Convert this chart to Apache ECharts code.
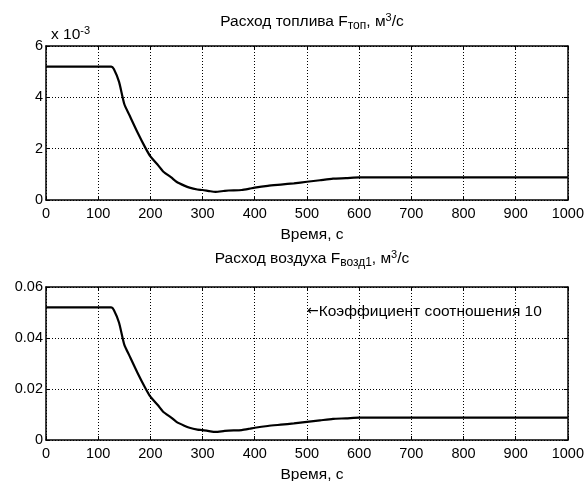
<!DOCTYPE html>
<html><head><meta charset="utf-8">
<script src="https://cdn.jsdelivr.net/npm/echarts@6/dist/echarts.min.js"></script>
<style>html,body{margin:0;padding:0;background:#fff}#c{width:587px;height:481px}</style>
</head><body><div id="c"></div>
<script>
const time = [0,125,130,140,150,160,175,190,200,215,225,240,250,265,275,290,300,315,325,340,350,375,390,400,425,450,475,500,525,550,575,600,700,800,900,1000];
const fuel = [5.2e-3,5.2e-3,5.1e-3,4.6e-3,3.74e-3,3.3e-3,2.65e-3,2.05e-3,1.70e-3,1.35e-3,1.10e-3,0.88e-3,0.71e-3,0.56e-3,0.48e-3,0.41e-3,0.39e-3,0.34e-3,0.32e-3,0.35e-3,0.37e-3,0.39e-3,0.44e-3,0.48e-3,0.55e-3,0.60e-3,0.65e-3,0.71e-3,0.77e-3,0.83e-3,0.85e-3,0.88e-3,0.88e-3,0.88e-3,0.88e-3,0.88e-3];
const ratio = 10;
const air = fuel.map(v => v * ratio);
const xTicks = [0,100,200,300,400,500,600,700,800,900,1000];
const fuelTicks = [0,2,4,6];
const airTicks = [0,0.02,0.04,0.06];
const note = {x: 500, y: 0.0503, arrow: '←', text: 'Коэффициент соотношения 10'};

const F = 'Liberation Sans, Arial, sans-serif';
const FS = 14.5;   // tick labels
const TS = 15.5;   // titles / axis names
const chart = echarts.init(document.getElementById('c'));
const gridStyle = {show:true, lineStyle:{color:'#000', type:[1,2], width:1}};
function xAxis(gi, pos, labels){
  return {type:'value', gridIndex:gi, position:pos, min:xTicks[0], max:xTicks[xTicks.length-1], interval:xTicks[1]-xTicks[0],
    axisLine:{show:true, onZero:false, lineStyle:{color:'#000', width:1.5}},
    axisTick:{show:true, inside:true, length:4, lineStyle:{color:'#000'}},
    axisLabel:{show:labels, color:'#000', fontFamily:F, fontSize:FS, margin:6, formatter:v=>String(v)},
    splitLine: labels ? gridStyle : {show:false}};
}
function yAxis(gi, pos, labels, ticks, fmt){
  return {type:'value', gridIndex:gi, position:pos, min:ticks[0], max:ticks[ticks.length-1], interval:ticks[1]-ticks[0],
    axisLine:{show:true, onZero:false, lineStyle:{color:'#000', width:1.5}},
    axisTick:{show:true, inside:true, length:4, lineStyle:{color:'#000'}},
    axisLabel:{show:labels, color:'#000', fontFamily:F, fontSize:FS, margin:3, formatter:fmt},
    splitLine: labels ? gridStyle : {show:false}};
}
const rich = {
  t:{fontFamily:F, fontSize:TS, fontWeight:'normal', color:'#000'},
  sub:{fontFamily:F, fontSize:12, fontWeight:'normal', color:'#000', verticalAlign:'bottom', padding:[8,0,0,0]},
  sup:{fontFamily:F, fontSize:11, fontWeight:'normal', color:'#000', verticalAlign:'top', padding:[0,0,8,0]}
};
const plain = {fontFamily:F, fontSize:TS, fontWeight:'normal', color:'#000'};
chart.setOption({
  animation:false,
  title:[
    {text:'{t|Расход топлива F}{sub|топ}{t|, м}{sup|3}{t|/с}', left:307, textAlign:'center', top:7, textStyle:{rich:rich}},
    {text:'{t|Расход воздуха F}{sub|возд1}{t|, м}{sup|3}{t|/с}', left:307, textAlign:'center', top:244, textStyle:{rich:rich}},
    {text:'Время, с', left:307, textAlign:'center', top:222, textStyle:plain},
    {text:'Время, с', left:307, textAlign:'center', top:462, textStyle:plain},
    {text:'{t|x 10}{sup|-3}', left:46, top:20, textStyle:{rich:rich}}
  ],
  grid:[
    {left:46, right:18, top:46, height:154},
    {left:46, right:18, top:287, height:153}
  ],
  xAxis:[xAxis(0,'bottom',true), xAxis(0,'top',false), xAxis(1,'bottom',true), xAxis(1,'top',false)],
  yAxis:[
    yAxis(0,'left',true,fuelTicks.map(v=>v*1e-3), v=>String(Math.round(v*1000))),
    yAxis(0,'right',false,fuelTicks.map(v=>v*1e-3)),
    yAxis(1,'left',true,airTicks, v=>v===0?'0':v.toFixed(2)),
    yAxis(1,'right',false,airTicks)
  ],
  series:[
    {type:'line', xAxisIndex:0, yAxisIndex:0, data:time.map((t,i)=>[t,fuel[i]]), showSymbol:false, lineStyle:{color:'#000', width:2.2}, smooth:0.2},
    {type:'line', xAxisIndex:2, yAxisIndex:2, data:time.map((t,i)=>[t,air[i]]), showSymbol:false, lineStyle:{color:'#000', width:2.2}, smooth:0.2},
    {type:'scatter', xAxisIndex:2, yAxisIndex:2, data:[[note.x, note.y]], symbolSize:0, itemStyle:{opacity:1},
      label:{show:true, position:'right', distance:0, formatter:'{a|'+note.arrow+'}{b|'+note.text+'}', opacity:1,
        rich:{a:{fontFamily:'DejaVu Sans', fontSize:14, color:'#000'}, b:{fontFamily:F, fontSize:15.5, color:'#000'}}}}
  ]
});
</script></body></html>
